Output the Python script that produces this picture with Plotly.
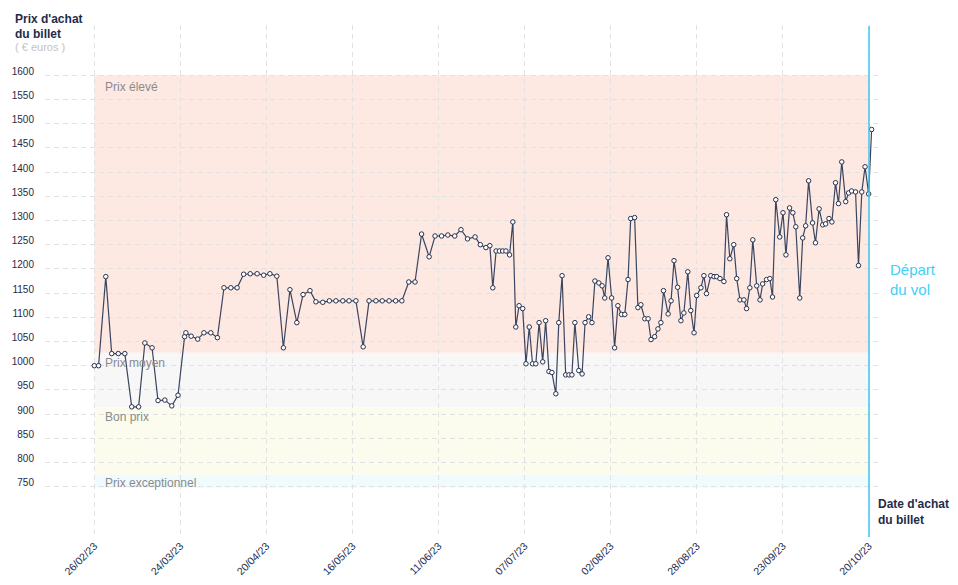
import plotly.graph_objects as go

# Jours écoulés depuis le 26/02/23 (date d'achat) et prix relevés
jours = [0.0, 1.3, 3.5, 5.3, 7.3, 9.3, 11.4, 13.5, 15.4, 17.6,
         19.4, 21.5, 23.6, 25.5, 27.5, 27.9, 29.5, 31.5, 33.4, 35.5,
         37.5, 39.5, 41.6, 43.5, 45.5, 47.5, 49.6, 51.6, 53.5, 55.6,
         57.6, 59.6, 61.7, 63.6, 65.7, 67.5, 69.6, 71.6, 73.6, 75.7,
         77.6, 79.7, 81.9, 83.7, 85.8, 87.7, 89.8, 91.8, 93.7, 95.8,
         97.7, 99.7, 102.0, 103.8, 105.8, 107.7, 109.8, 111.7, 113.7, 116.0,
         117.6, 119.3, 120.5, 121.4, 122.4, 123.4, 124.4, 125.4, 126.5, 127.5,
         128.4, 129.4, 130.5, 131.5, 132.5, 133.5, 134.5, 135.5, 136.6, 137.5,
         138.5, 139.4, 140.6, 141.5, 142.5, 143.6, 144.6, 145.5, 146.4, 147.6,
         148.6, 149.5, 150.6, 151.6, 152.5, 153.7, 154.7, 155.5, 156.5, 157.6,
         158.5, 159.5, 160.6, 161.6, 162.6, 163.4, 164.6, 165.6, 166.5, 167.7,
         168.7, 169.6, 170.7, 171.7, 172.6, 173.4, 174.8, 175.7, 176.6, 177.7,
         178.7, 179.6, 180.8, 181.7, 182.7, 183.5, 184.8, 185.7, 186.5, 187.8,
         188.8, 189.6, 190.6, 191.8, 192.6, 193.6, 194.8, 195.7, 196.7, 197.9,
         198.7, 199.7, 200.6, 201.8, 202.8, 203.6, 204.8, 205.8, 206.6, 207.6,
         208.8, 209.8, 210.7, 211.8, 212.8, 213.7, 214.9, 215.8, 216.7, 217.6,
         218.8, 219.7, 220.8, 221.9, 222.8, 223.8, 224.7, 225.8, 226.7, 227.7,
         228.9, 229.8, 230.7, 231.9, 232.8, 233.8, 234.8, 235.9, 236.8]

prix = [1000, 1000, 1184, 1025, 1025, 1025, 915, 915, 1047, 1037,
        928, 929, 917, 939, 1060, 1068, 1061, 1055, 1068, 1068,
        1058, 1161, 1161, 1161, 1189, 1190, 1190, 1187, 1190, 1185,
        1037, 1157, 1089, 1147, 1155, 1132, 1131, 1134, 1134, 1134,
        1134, 1134, 1039, 1134, 1134, 1134, 1134, 1134, 1134, 1173,
        1173, 1272, 1225, 1268, 1268, 1270, 1268, 1281, 1262, 1266,
        1250, 1244, 1248, 1161, 1237, 1237, 1237, 1237, 1229, 1297,
        1080, 1124, 1118, 1004, 1080, 1004, 1004, 1089, 1008, 1093,
        988, 986, 942, 1089, 1186, 981, 981, 981, 1089, 990,
        983, 1089, 1101, 1089, 1175, 1171, 1165, 1140, 1223, 1140,
        1037, 1124, 1106, 1106, 1178, 1304, 1306, 1120, 1126, 1097,
        1097, 1054, 1060, 1076, 1089, 1155, 1107, 1134, 1217, 1162,
        1093, 1109, 1194, 1114, 1068, 1145, 1161, 1186, 1149, 1186,
        1184, 1184, 1180, 1174, 1312, 1221, 1250, 1180, 1136, 1136,
        1118, 1161, 1260, 1165, 1136, 1169, 1178, 1180, 1142, 1343,
        1266, 1316, 1229, 1326, 1316, 1287, 1140, 1264, 1289, 1382,
        1295, 1254, 1324, 1291, 1293, 1304, 1297, 1378, 1335, 1421,
        1339, 1357, 1361, 1359, 1207, 1359, 1411, 1355, 1488]

tick_jours = [0, 26.22, 52.44, 78.67, 104.89, 131.11, 157.33, 183.56, 209.78, 236]
tick_labels = ["26/02/23", "24/03/23", "20/04/23", "16/05/23", "11/06/23",
               "07/07/23", "02/08/23", "28/08/23", "23/09/23", "20/10/23"]
y_ticks = [750, 800, 850, 900, 950, 1000, 1050, 1100, 1150, 1200,
           1250, 1300, 1350, 1400, 1450, 1500, 1550, 1600]

jour_depart = 236
zones = [  # (nom, bas, haut, couleur)
    ("Prix élevé", 1027, 1600, "#fde8e2"),
    ("Prix moyen", 914, 1027, "#f7f7f7"),
    ("Bon prix", 774, 914, "#fcfcee"),
    ("Prix exceptionnel", 748, 774, "#effbfd"),
]
zone_label_y = [1576, 1005, 895, 757]

FONT = "Liberation Sans, Arial, sans-serif"
NAVY = "#1f2b4a"

fig = go.Figure()
fig.add_trace(go.Scatter(
    x=jours, y=prix, mode="lines+markers",
    line=dict(color="#3b4560", width=1.2),
    marker=dict(size=4.5, color="white", line=dict(color="#27324d", width=1)),
    cliponaxis=False, hoverinfo="x+y", showlegend=False,
))

shapes = []
for (nom, lo, hi, col) in zones:
    shapes.append(dict(type="rect", xref="x", yref="y", x0=0, x1=jour_depart,
                       y0=lo, y1=hi, fillcolor=col, line=dict(width=0), layer="below"))
# masque des grilles après le départ
shapes.append(dict(type="rect", xref="x", yref="paper", x0=jour_depart, x1=245,
                   y0=-0.01, y1=1.01, fillcolor="white", line=dict(width=0), layer="between"))
shapes.append(dict(type="line", xref="x", yref="paper", x0=jour_depart, x1=jour_depart,
                   y0=0, y1=0.998, line=dict(color="#3ec6ec", width=1.5), layer="above"))

annotations = []
for (nom, lo, hi, col), yl in zip(zones, zone_label_y):
    annotations.append(dict(x=2.7, y=yl, xref="x", yref="y", text=nom, showarrow=False,
                            xanchor="left", yanchor="middle",
                            font=dict(family=FONT, size=12, color="#8a8a8f")))
annotations += [
    dict(x=-0.0382, y=1.0117, xref="paper", yref="paper", text="<b>Prix d'achat</b>",
         showarrow=False, xanchor="left", yanchor="middle",
         font=dict(family=FONT, size=12, color=NAVY)),
    dict(x=-0.0382, y=0.9824, xref="paper", yref="paper", text="<b>du billet</b>",
         showarrow=False, xanchor="left", yanchor="middle",
         font=dict(family=FONT, size=12, color=NAVY)),
    dict(x=-0.0382, y=0.957, xref="paper", yref="paper", text="( € euros )",
         showarrow=False, xanchor="left", yanchor="middle",
         font=dict(family=FONT, size=11, color="#c3c3c3")),
    dict(x=0.9928, y=0.049, xref="paper", yref="paper", text="<b>Date d'achat<br>du billet</b>",
         showarrow=False, xanchor="left", yanchor="middle", align="left",
         font=dict(family=FONT, size=12, color=NAVY)),
    dict(x=1.0072, y=0.502, xref="paper", yref="paper", text="Départ<br>du vol",
         showarrow=False, xanchor="left", yanchor="middle", align="left",
         font=dict(family=FONT, size=15, color="#3fd0f4")),
]

# la page HTML ajoute une marge de 8 px : marges compensées
fig.update_layout(
    width=958, height=585,
    margin=dict(l=37, r=84, t=17, b=56, autoexpand=False),
    paper_bgcolor="white", plot_bgcolor="white",
    shapes=shapes, annotations=annotations,
    font=dict(family=FONT, size=10, color=NAVY),
    xaxis=dict(range=[-15.02, 239.96], tickvals=tick_jours, ticktext=tick_labels,
               tickangle=-45, showgrid=True, gridcolor="#e2e2e2", griddash="5px,4px",
               gridwidth=1, zeroline=False, showline=False, ticks="", automargin=False,
               tickfont=dict(family=FONT, size=10.5, color=NAVY)),
    yaxis=dict(range=[646.1, 1703.9], tickvals=y_ticks, ticktext=[str(v) for v in y_ticks],
               showgrid=True, gridcolor="#e2e2e2", griddash="5px,4px", gridwidth=1,
               zeroline=False, showline=False, ticks="", ticklabelstandoff=10,
               ticklabelshift=-4, automargin=False,
               tickfont=dict(family=FONT, size=10, color=NAVY)),
)

fig.write_html("out.html")
